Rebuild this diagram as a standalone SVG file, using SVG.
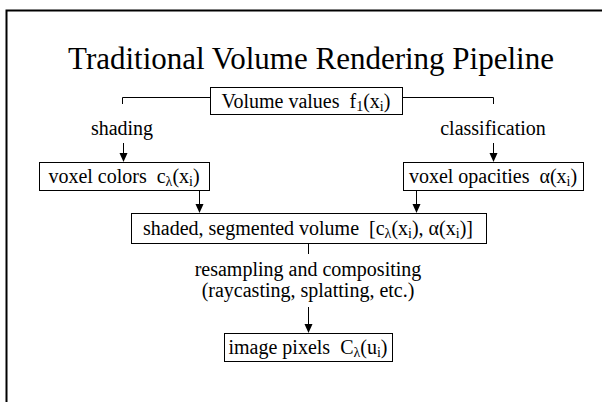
<svg xmlns="http://www.w3.org/2000/svg" width="602" height="402" viewBox="0 0 602 402">
<style>
text{font-family:"Liberation Serif","Times New Roman",serif;fill:#000;white-space:pre}
.t{font-size:31px;text-anchor:middle}
.n{font-size:20px;text-anchor:middle}
.s{font-size:14px}
.box{fill:#fff;stroke:#000;stroke-width:1}
.c{fill:none;stroke:#000;stroke-width:1}
</style>
<path d="M6.5,402 V10.5 H602" fill="none" stroke="#000" stroke-width="2"/>
<text class="t" x="311" y="69">Traditional Volume Rendering Pipeline</text>
<g id="connectors">
<path class="c" d="M210,97.5 H122.5 V104"/>
<path class="c" d="M402,97.5 H493.5 V104"/>
<path class="c" d="M123.5,143 V153"/>
<path d="M119.5,153 H127.5 L123.5,162 Z"/>
<path class="c" d="M493.5,143 V153"/>
<path d="M489.5,153 H497.5 L493.5,162 Z"/>
<path class="c" d="M199.5,190 V204"/>
<path d="M195.5,204 H203.5 L199.5,213 Z"/>
<path class="c" d="M416.5,190 V204"/>
<path d="M412.5,204 H420.5 L416.5,213 Z"/>
<path class="c" d="M308.5,243 V254"/>
<path class="c" d="M308.5,307 V324"/>
<path d="M304.5,324 H312.5 L308.5,333 Z"/>
</g>
<g id="volume">
<rect class="box" x="210.5" y="87.5" width="192" height="27"/>
<text class="n" x="306" y="108" xml:space="preserve">Volume values  f<tspan class="s" dy="3">1</tspan><tspan dy="-3">(x</tspan><tspan class="s" dy="3">i</tspan><tspan dy="-3">)</tspan></text>
</g>
<g id="shading-label"><text class="n" x="122" y="135">shading</text></g>
<g id="classification-label"><text class="n" x="493" y="135">classification</text></g>
<g id="voxel-colors">
<rect class="box" x="39.5" y="162.5" width="170" height="28"/>
<text class="n" x="124" y="183" xml:space="preserve">voxel colors  c<tspan class="s" dy="3">λ</tspan><tspan dy="-3">(x</tspan><tspan class="s" dy="3">i</tspan><tspan dy="-3">)</tspan></text>
</g>
<g id="voxel-opacities">
<rect class="box" x="403.5" y="162.5" width="180" height="28"/>
<text class="n" x="493" y="183" xml:space="preserve">voxel opacities  α(x<tspan class="s" dy="3">i</tspan><tspan dy="-3">)</tspan></text>
</g>
<g id="shaded">
<rect class="box" x="131.5" y="213.5" width="355" height="30"/>
<text class="n" x="308" y="235" xml:space="preserve">shaded, segmented volume  [c<tspan class="s" dy="3">λ</tspan><tspan dy="-3">(x</tspan><tspan class="s" dy="3">i</tspan><tspan dy="-3">), α(x</tspan><tspan class="s" dy="3">i</tspan><tspan dy="-3">)]</tspan></text>
</g>
<g id="resampling-label">
<text class="n" x="308" y="276">resampling and compositing</text>
<text class="n" x="308" y="297">(raycasting, splatting, etc.)</text>
</g>
<g id="image-pixels">
<rect class="box" x="224.5" y="333.5" width="168" height="28"/>
<text class="n" x="308" y="354" xml:space="preserve">image pixels  C<tspan class="s" dy="3">λ</tspan><tspan dy="-3">(u</tspan><tspan class="s" dy="3">i</tspan><tspan dy="-3">)</tspan></text>
</g>
</svg>
